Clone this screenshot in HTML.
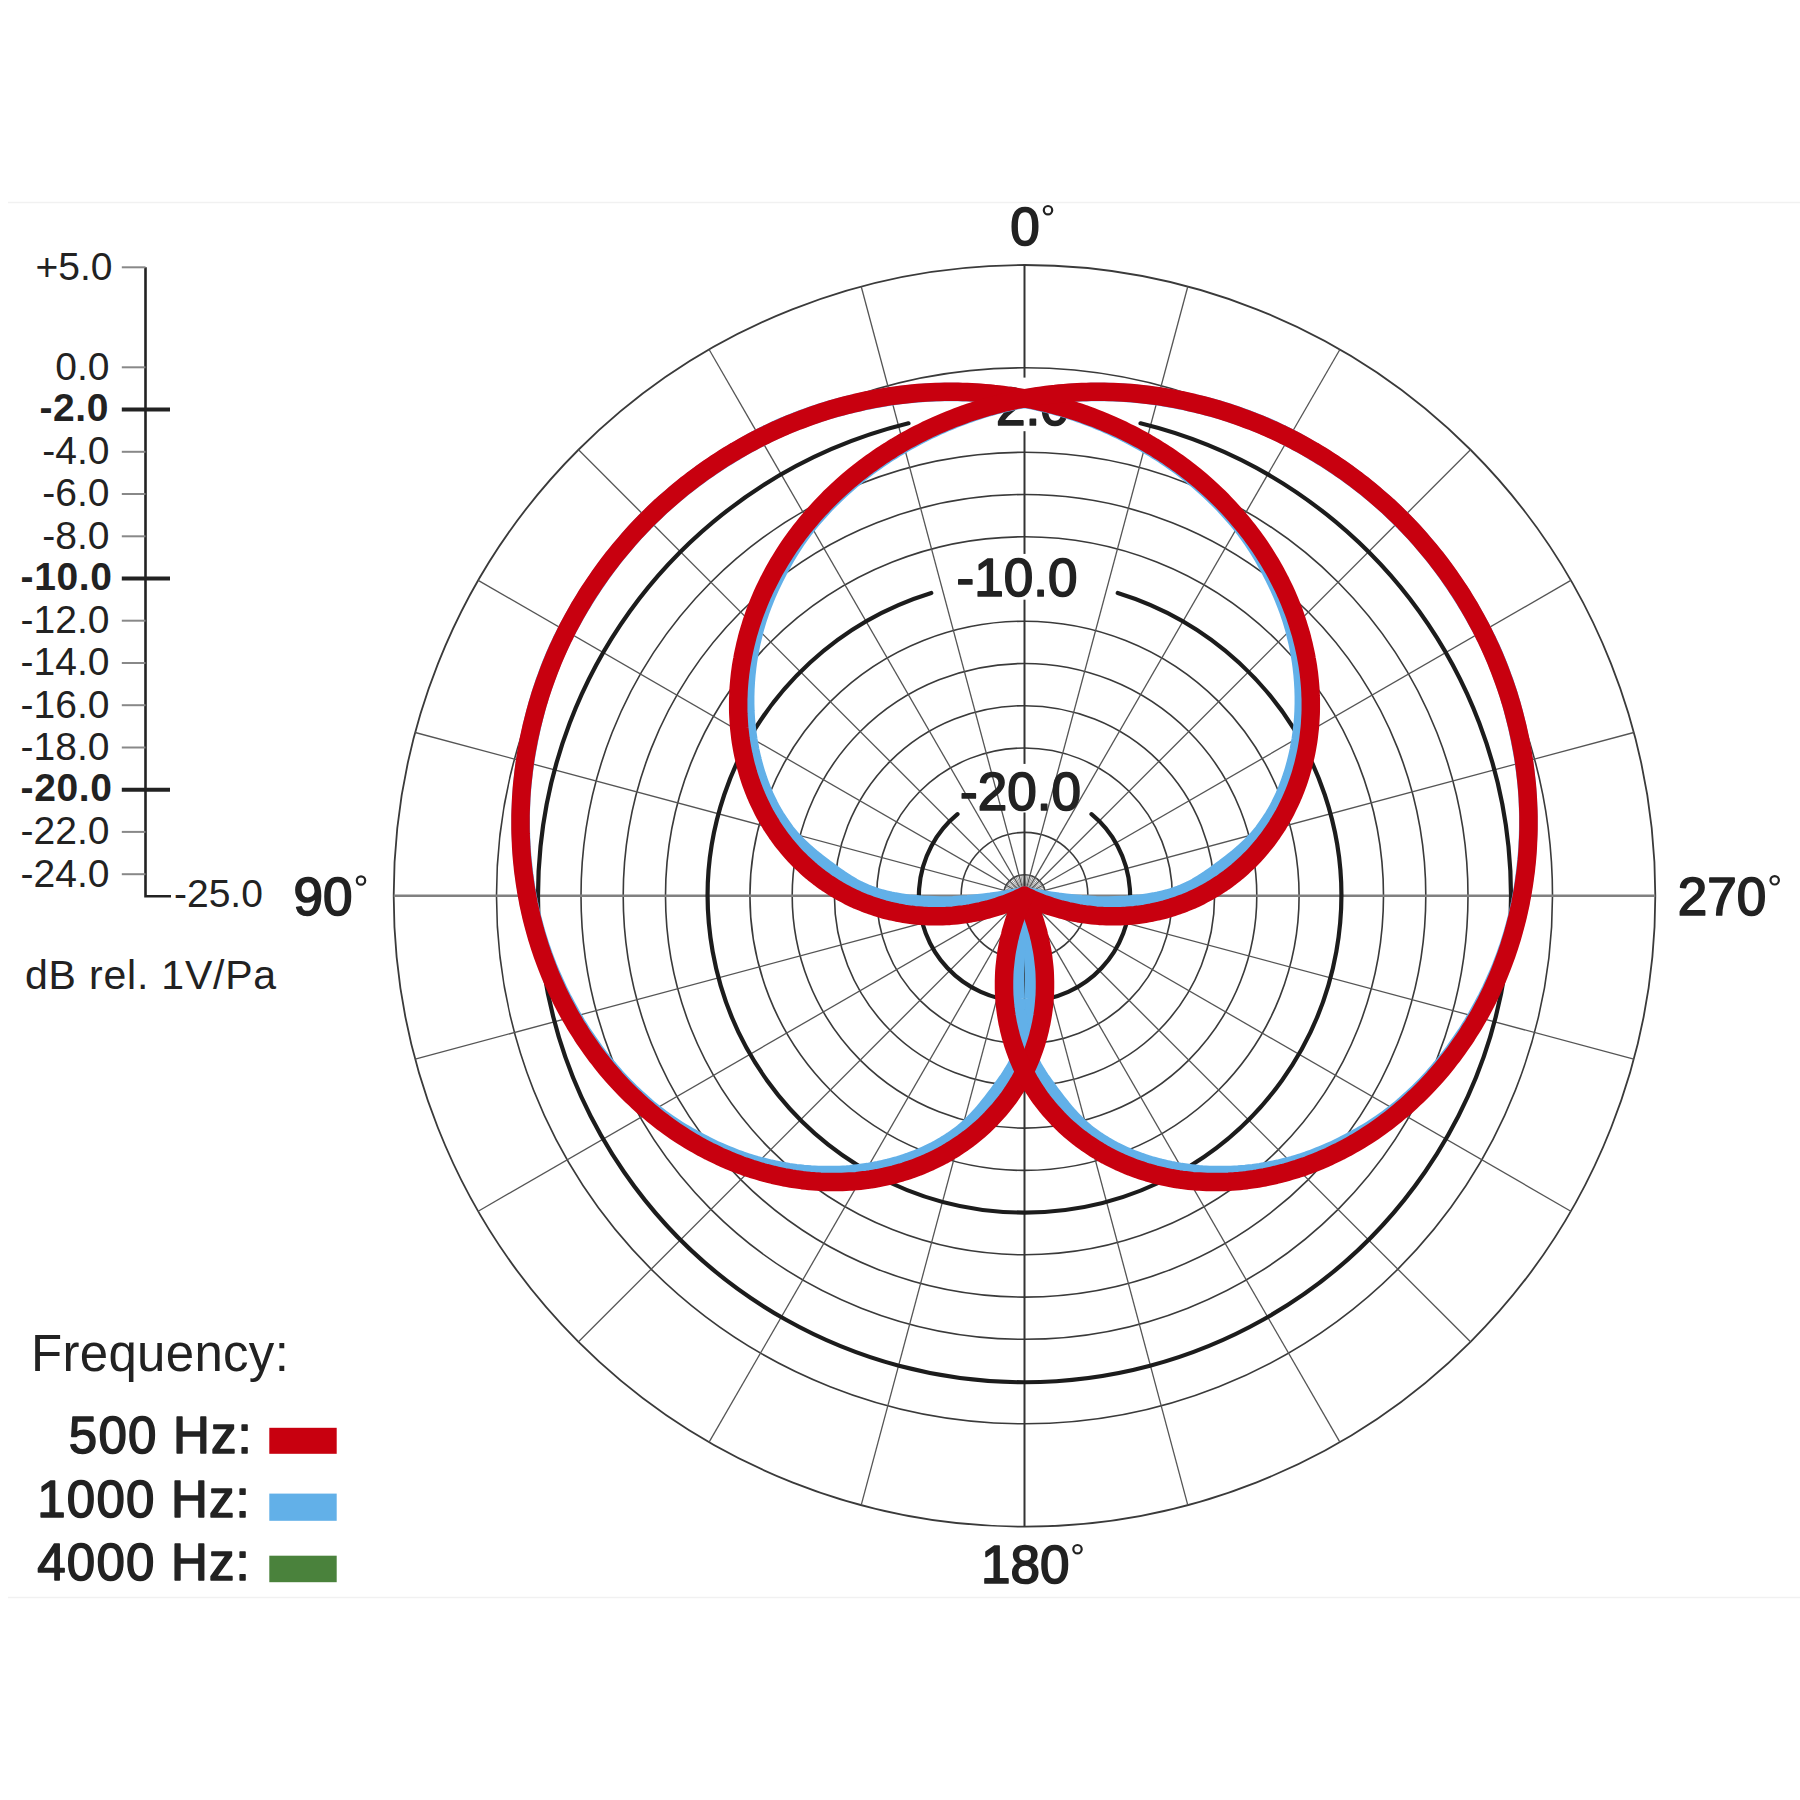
<!DOCTYPE html>
<html><head><meta charset="utf-8"><style>
html,body{margin:0;padding:0;background:#fff;}
svg{display:block;}
text{font-family:"Liberation Sans",sans-serif;fill:#222;}
.b{font-weight:bold;}
.m{font-weight:normal;stroke:#222;stroke-width:1.7;stroke-linejoin:round;}
.m2{font-weight:normal;stroke:#222;stroke-width:1.5;stroke-linejoin:round;}
.m3{font-weight:normal;stroke:#222;stroke-width:1.3;stroke-linejoin:round;}
.r{font-weight:normal;}
</style></head><body>
<svg width="1800" height="1800" viewBox="0 0 1800 1800">
<line x1="8" y1="202.5" x2="1800" y2="202.5" stroke="#f1f1f1" stroke-width="1.5"/>
<line x1="8" y1="1597.5" x2="1800" y2="1597.5" stroke="#f1f1f1" stroke-width="1.5"/>
<circle cx="1024.5" cy="895.8" r="21.1" fill="none" stroke="#3a3a3a" stroke-width="1.6"/>
<circle cx="1024.5" cy="895.8" r="63.4" fill="none" stroke="#3a3a3a" stroke-width="1.6"/>
<circle cx="1024.5" cy="895.8" r="147.8" fill="none" stroke="#3a3a3a" stroke-width="1.6"/>
<circle cx="1024.5" cy="895.8" r="190.1" fill="none" stroke="#3a3a3a" stroke-width="1.6"/>
<circle cx="1024.5" cy="895.8" r="232.3" fill="none" stroke="#3a3a3a" stroke-width="1.6"/>
<circle cx="1024.5" cy="895.8" r="274.6" fill="none" stroke="#3a3a3a" stroke-width="1.6"/>
<circle cx="1024.5" cy="895.8" r="359.0" fill="none" stroke="#3a3a3a" stroke-width="1.6"/>
<circle cx="1024.5" cy="895.8" r="401.3" fill="none" stroke="#3a3a3a" stroke-width="1.6"/>
<circle cx="1024.5" cy="895.8" r="443.5" fill="none" stroke="#3a3a3a" stroke-width="1.6"/>
<circle cx="1024.5" cy="895.8" r="528.0" fill="none" stroke="#3a3a3a" stroke-width="1.6"/>
<circle cx="1024.5" cy="895.8" r="630.8" fill="none" stroke="#3a3a3a" stroke-width="1.8"/>
<line x1="1024.5" y1="895.8" x2="1187.8" y2="286.5" stroke="#555" stroke-width="1.3"/>
<line x1="1024.5" y1="895.8" x2="1339.9" y2="349.5" stroke="#555" stroke-width="1.3"/>
<line x1="1024.5" y1="895.8" x2="1470.5" y2="449.8" stroke="#555" stroke-width="1.3"/>
<line x1="1024.5" y1="895.8" x2="1570.8" y2="580.4" stroke="#555" stroke-width="1.3"/>
<line x1="1024.5" y1="895.8" x2="1633.8" y2="732.5" stroke="#555" stroke-width="1.3"/>
<line x1="1024.5" y1="895.8" x2="1633.8" y2="1059.1" stroke="#555" stroke-width="1.3"/>
<line x1="1024.5" y1="895.8" x2="1570.8" y2="1211.2" stroke="#555" stroke-width="1.3"/>
<line x1="1024.5" y1="895.8" x2="1470.5" y2="1341.8" stroke="#555" stroke-width="1.3"/>
<line x1="1024.5" y1="895.8" x2="1339.9" y2="1442.1" stroke="#555" stroke-width="1.3"/>
<line x1="1024.5" y1="895.8" x2="1187.8" y2="1505.1" stroke="#555" stroke-width="1.3"/>
<line x1="1024.5" y1="895.8" x2="861.2" y2="1505.1" stroke="#555" stroke-width="1.3"/>
<line x1="1024.5" y1="895.8" x2="709.1" y2="1442.1" stroke="#555" stroke-width="1.3"/>
<line x1="1024.5" y1="895.8" x2="578.5" y2="1341.8" stroke="#555" stroke-width="1.3"/>
<line x1="1024.5" y1="895.8" x2="478.2" y2="1211.2" stroke="#555" stroke-width="1.3"/>
<line x1="1024.5" y1="895.8" x2="415.2" y2="1059.1" stroke="#555" stroke-width="1.3"/>
<line x1="1024.5" y1="895.8" x2="415.2" y2="732.5" stroke="#555" stroke-width="1.3"/>
<line x1="1024.5" y1="895.8" x2="478.2" y2="580.4" stroke="#555" stroke-width="1.3"/>
<line x1="1024.5" y1="895.8" x2="578.5" y2="449.8" stroke="#555" stroke-width="1.3"/>
<line x1="1024.5" y1="895.8" x2="709.1" y2="349.5" stroke="#555" stroke-width="1.3"/>
<line x1="1024.5" y1="895.8" x2="861.2" y2="286.5" stroke="#555" stroke-width="1.3"/>
<line x1="1024.5" y1="895.8" x2="1026.3" y2="874.8" stroke="#777" stroke-width="0.8"/>
<line x1="1024.5" y1="895.8" x2="1028.2" y2="875.0" stroke="#777" stroke-width="0.8"/>
<line x1="1024.5" y1="895.8" x2="1031.7" y2="876.0" stroke="#777" stroke-width="0.8"/>
<line x1="1024.5" y1="895.8" x2="1033.4" y2="876.7" stroke="#777" stroke-width="0.8"/>
<line x1="1024.5" y1="895.8" x2="1036.6" y2="878.5" stroke="#777" stroke-width="0.8"/>
<line x1="1024.5" y1="895.8" x2="1038.1" y2="879.6" stroke="#777" stroke-width="0.8"/>
<line x1="1024.5" y1="895.8" x2="1040.7" y2="882.2" stroke="#777" stroke-width="0.8"/>
<line x1="1024.5" y1="895.8" x2="1041.8" y2="883.7" stroke="#777" stroke-width="0.8"/>
<line x1="1024.5" y1="895.8" x2="1043.6" y2="886.9" stroke="#777" stroke-width="0.8"/>
<line x1="1024.5" y1="895.8" x2="1044.3" y2="888.6" stroke="#777" stroke-width="0.8"/>
<line x1="1024.5" y1="895.8" x2="1045.3" y2="892.1" stroke="#777" stroke-width="0.8"/>
<line x1="1024.5" y1="895.8" x2="1045.5" y2="894.0" stroke="#777" stroke-width="0.8"/>
<line x1="1024.5" y1="895.8" x2="1045.5" y2="897.6" stroke="#777" stroke-width="0.8"/>
<line x1="1024.5" y1="895.8" x2="1045.3" y2="899.5" stroke="#777" stroke-width="0.8"/>
<line x1="1024.5" y1="895.8" x2="1044.3" y2="903.0" stroke="#777" stroke-width="0.8"/>
<line x1="1024.5" y1="895.8" x2="1043.6" y2="904.7" stroke="#777" stroke-width="0.8"/>
<line x1="1024.5" y1="895.8" x2="1041.8" y2="907.9" stroke="#777" stroke-width="0.8"/>
<line x1="1024.5" y1="895.8" x2="1040.7" y2="909.4" stroke="#777" stroke-width="0.8"/>
<line x1="1024.5" y1="895.8" x2="1038.1" y2="912.0" stroke="#777" stroke-width="0.8"/>
<line x1="1024.5" y1="895.8" x2="1036.6" y2="913.1" stroke="#777" stroke-width="0.8"/>
<line x1="1024.5" y1="895.8" x2="1033.4" y2="914.9" stroke="#777" stroke-width="0.8"/>
<line x1="1024.5" y1="895.8" x2="1031.7" y2="915.6" stroke="#777" stroke-width="0.8"/>
<line x1="1024.5" y1="895.8" x2="1028.2" y2="916.6" stroke="#777" stroke-width="0.8"/>
<line x1="1024.5" y1="895.8" x2="1026.3" y2="916.8" stroke="#777" stroke-width="0.8"/>
<line x1="1024.5" y1="895.8" x2="1022.7" y2="916.8" stroke="#777" stroke-width="0.8"/>
<line x1="1024.5" y1="895.8" x2="1020.8" y2="916.6" stroke="#777" stroke-width="0.8"/>
<line x1="1024.5" y1="895.8" x2="1017.3" y2="915.6" stroke="#777" stroke-width="0.8"/>
<line x1="1024.5" y1="895.8" x2="1015.6" y2="914.9" stroke="#777" stroke-width="0.8"/>
<line x1="1024.5" y1="895.8" x2="1012.4" y2="913.1" stroke="#777" stroke-width="0.8"/>
<line x1="1024.5" y1="895.8" x2="1010.9" y2="912.0" stroke="#777" stroke-width="0.8"/>
<line x1="1024.5" y1="895.8" x2="1008.3" y2="909.4" stroke="#777" stroke-width="0.8"/>
<line x1="1024.5" y1="895.8" x2="1007.2" y2="907.9" stroke="#777" stroke-width="0.8"/>
<line x1="1024.5" y1="895.8" x2="1005.4" y2="904.7" stroke="#777" stroke-width="0.8"/>
<line x1="1024.5" y1="895.8" x2="1004.7" y2="903.0" stroke="#777" stroke-width="0.8"/>
<line x1="1024.5" y1="895.8" x2="1003.7" y2="899.5" stroke="#777" stroke-width="0.8"/>
<line x1="1024.5" y1="895.8" x2="1003.5" y2="897.6" stroke="#777" stroke-width="0.8"/>
<line x1="1024.5" y1="895.8" x2="1003.5" y2="894.0" stroke="#777" stroke-width="0.8"/>
<line x1="1024.5" y1="895.8" x2="1003.7" y2="892.1" stroke="#777" stroke-width="0.8"/>
<line x1="1024.5" y1="895.8" x2="1004.7" y2="888.6" stroke="#777" stroke-width="0.8"/>
<line x1="1024.5" y1="895.8" x2="1005.4" y2="886.9" stroke="#777" stroke-width="0.8"/>
<line x1="1024.5" y1="895.8" x2="1007.2" y2="883.7" stroke="#777" stroke-width="0.8"/>
<line x1="1024.5" y1="895.8" x2="1008.3" y2="882.2" stroke="#777" stroke-width="0.8"/>
<line x1="1024.5" y1="895.8" x2="1010.9" y2="879.6" stroke="#777" stroke-width="0.8"/>
<line x1="1024.5" y1="895.8" x2="1012.4" y2="878.5" stroke="#777" stroke-width="0.8"/>
<line x1="1024.5" y1="895.8" x2="1015.6" y2="876.7" stroke="#777" stroke-width="0.8"/>
<line x1="1024.5" y1="895.8" x2="1017.3" y2="876.0" stroke="#777" stroke-width="0.8"/>
<line x1="1024.5" y1="895.8" x2="1020.8" y2="875.0" stroke="#777" stroke-width="0.8"/>
<line x1="1024.5" y1="895.8" x2="1022.7" y2="874.8" stroke="#777" stroke-width="0.8"/>
<line x1="1024.5" y1="265.0" x2="1024.5" y2="377.6" stroke="#333" stroke-width="2"/>
<line x1="1024.5" y1="431.2" x2="1024.5" y2="553.9" stroke="#333" stroke-width="2"/>
<line x1="1024.5" y1="599.7" x2="1024.5" y2="763.9" stroke="#333" stroke-width="2"/>
<line x1="1024.5" y1="812.5" x2="1024.5" y2="1526.6" stroke="#333" stroke-width="2"/>
<line x1="393.7" y1="895.8" x2="1655.3" y2="895.8" stroke="#808080" stroke-width="2.4"/>
<path d="M1091.5 814.2 A105.6 105.6 0 1 1 957.5 814.2" fill="none" stroke="#1c1c1c" stroke-width="4.2" stroke-linecap="round"/>
<path d="M1117.7 593.0 A316.8 316.8 0 1 1 931.3 593.0" fill="none" stroke="#1c1c1c" stroke-width="4.2" stroke-linecap="round"/>
<path d="M1140.5 423.3 A486.5 486.5 0 1 1 908.5 423.3" fill="none" stroke="#1c1c1c" stroke-width="4.2" stroke-linecap="round"/>
<text x="1017.0" y="595.6" text-anchor="middle" class="m" font-size="53">-10.0</text>
<text x="1020.5" y="809.7" text-anchor="middle" class="m" font-size="53">-20.0</text>
<text x="1024.0" y="425.4" text-anchor="middle" class="m" font-size="53">-2.0</text>
<path d="M1024.5 398.8L1020.2 398.0L1015.8 397.3L1011.4 396.6L1007.0 396.0L1002.7 395.4L998.2 394.9L993.8 394.4L989.4 393.9L985.0 393.5L980.5 393.1L976.1 392.8L971.6 392.6L967.1 392.3L962.7 392.2L958.2 392.1L953.7 392.0L949.2 392.0L944.7 392.0L940.2 392.1L935.7 392.2L931.2 392.4L926.7 392.6L922.2 392.9L917.7 393.3L913.2 393.7L908.7 394.1L904.2 394.6L899.7 395.2L895.2 395.8L890.7 396.4L886.2 397.1L881.7 397.9L877.2 398.7L872.8 399.5L868.3 400.4L863.8 401.3L859.4 402.2L854.9 403.2L850.4 404.3L846.0 405.4L841.6 406.5L837.1 407.7L832.7 408.9L828.3 410.2L823.9 411.5L819.5 412.9L815.2 414.4L810.8 415.8L806.5 417.4L802.1 419.0L797.8 420.6L793.5 422.3L789.3 424.0L785.0 425.8L780.8 427.6L776.6 429.5L772.4 431.5L768.2 433.5L764.1 435.6L760.0 437.7L755.9 439.8L751.8 442.0L747.8 444.3L743.8 446.5L739.8 448.8L735.8 451.2L731.8 453.6L727.9 456.0L723.9 458.5L720.0 461.0L716.1 463.5L712.3 466.1L708.5 468.7L704.6 471.3L700.9 474.0L697.1 476.8L693.4 479.5L689.7 482.3L686.0 485.2L682.4 488.1L678.8 491.0L675.2 494.0L671.6 497.0L668.1 500.0L664.6 503.1L661.2 506.2L657.8 509.4L654.4 512.6L651.1 515.8L647.8 519.1L644.5 522.4L641.3 525.7L638.1 529.1L634.9 532.5L631.8 535.9L628.7 539.4L625.7 542.9L622.7 546.5L619.7 550.1L616.8 553.7L613.9 557.3L611.0 561.0L608.2 564.7L605.5 568.4L602.7 572.2L600.0 575.9L597.4 579.8L594.8 583.6L592.2 587.4L589.7 591.3L587.2 595.2L584.7 599.2L582.3 603.1L579.9 607.1L577.5 611.1L575.2 615.1L573.0 619.1L570.7 623.1L568.5 627.2L566.4 631.3L564.3 635.4L562.2 639.5L560.2 643.7L558.2 647.9L556.3 652.1L554.5 656.3L552.7 660.6L551.0 664.8L549.3 669.1L547.7 673.4L546.1 677.8L544.5 682.1L543.1 686.5L541.6 690.8L540.2 695.2L538.9 699.6L537.6 704.0L536.4 708.4L535.2 712.9L534.1 717.3L533.0 721.7L531.9 726.2L530.9 730.7L530.0 735.1L529.1 739.6L528.2 744.1L527.4 748.5L526.6 753.0L525.8 757.5L525.1 762.0L524.5 766.5L523.9 771.0L523.3 775.5L522.8 780.0L522.4 784.5L522.0 789.0L521.6 793.5L521.3 798.0L521.1 802.5L520.9 807.0L520.8 811.5L520.7 816.0L520.7 820.5L520.7 825.0L520.8 829.5L520.9 834.0L521.0 838.4L521.3 842.9L521.5 847.4L521.8 851.8L522.2 856.3L522.6 860.7L523.1 865.1L523.6 869.5L524.1 874.0L524.7 878.3L525.3 882.7L526.0 887.1L526.7 891.5L527.5 895.8L528.3 900.1L529.2 904.4L530.1 908.7L531.1 913.0L532.1 917.3L533.2 921.5L534.3 925.8L535.5 930.0L536.7 934.2L538.0 938.4L539.3 942.5L540.6 946.7L542.1 950.8L543.5 954.9L545.0 958.9L546.6 963.0L548.1 967.0L549.8 971.0L551.4 975.0L553.2 978.9L554.9 982.8L556.7 986.7L558.5 990.6L560.4 994.4L562.3 998.3L564.3 1002.0L566.3 1005.8L568.3 1009.5L570.4 1013.3L572.4 1016.9L574.6 1020.6L576.7 1024.2L579.0 1027.8L581.2 1031.3L583.5 1034.9L585.8 1038.3L588.2 1041.8L590.6 1045.2L593.0 1048.6L595.4 1052.0L597.9 1055.3L600.5 1058.6L603.1 1061.8L605.7 1065.0L608.3 1068.2L611.0 1071.3L613.7 1074.4L616.4 1077.5L619.2 1080.5L622.0 1083.5L624.8 1086.4L627.7 1089.3L630.6 1092.2L633.5 1095.0L636.5 1097.8L639.5 1100.5L642.5 1103.2L645.5 1105.9L648.6 1108.5L651.7 1111.0L654.8 1113.6L658.0 1116.0L661.2 1118.4L664.5 1120.8L667.7 1123.1L671.1 1125.3L674.4 1127.5L677.8 1129.7L681.2 1131.8L684.6 1133.8L688.0 1135.8L691.5 1137.7L695.0 1139.6L698.4 1141.5L701.9 1143.3L705.4 1145.1L708.9 1146.8L712.4 1148.5L715.9 1150.2L719.5 1151.8L723.0 1153.3L726.6 1154.8L730.1 1156.2L733.7 1157.6L737.3 1159.0L740.9 1160.3L744.5 1161.5L748.1 1162.7L751.8 1163.8L755.4 1164.9L759.1 1165.9L762.8 1166.8L766.5 1167.7L770.1 1168.6L773.8 1169.4L777.5 1170.1L781.2 1170.8L784.9 1171.5L788.6 1172.1L792.2 1172.6L795.9 1173.1L799.6 1173.5L803.3 1173.9L807.0 1174.2L810.6 1174.5L814.3 1174.7L818.0 1174.9L821.6 1175.0L825.3 1175.1L828.9 1175.1L832.5 1175.1L836.2 1175.0L839.8 1174.9L843.4 1174.7L847.0 1174.5L850.6 1174.2L854.1 1173.8L857.7 1173.4L861.2 1173.0L864.8 1172.5L868.3 1172.0L871.7 1171.4L875.2 1170.7L878.7 1170.1L882.1 1169.4L885.5 1168.6L888.9 1167.8L892.3 1166.9L895.6 1166.0L898.9 1165.1L902.2 1164.1L905.5 1163.0L908.8 1161.9L912.0 1160.7L915.3 1159.5L918.5 1158.3L921.6 1156.9L924.8 1155.6L927.9 1154.1L931.0 1152.6L934.1 1151.1L937.2 1149.5L940.2 1147.8L943.2 1146.1L946.2 1144.3L949.1 1142.4L952.0 1140.5L954.9 1138.5L957.7 1136.5L960.6 1134.4L963.4 1132.2L966.1 1129.8L968.9 1127.4L971.6 1124.8L974.3 1122.2L977.0 1119.4L979.6 1116.6L982.1 1113.8L984.6 1110.8L987.1 1107.9L989.5 1104.9L991.8 1102.0L994.1 1099.0L996.4 1096.0L998.5 1093.1L1000.6 1090.2L1002.7 1087.4L1004.7 1084.6L1006.6 1081.9L1008.5 1079.2L1010.3 1076.4L1012.1 1073.6L1013.8 1070.8L1015.5 1067.9L1017.1 1064.9L1018.7 1061.8L1020.2 1058.5L1021.7 1055.1L1023.1 1051.6L1024.5 1047.8L1025.8 1043.8L1027.0 1039.6L1028.1 1035.1L1029.2 1030.4L1030.2 1025.5L1031.0 1020.4L1031.8 1015.2L1032.5 1009.9L1033.0 1004.4L1033.5 998.4L1033.8 992.1L1034.0 985.9L1034.1 979.8L1034.1 973.7L1033.9 967.2L1033.5 960.0L1033.0 952.4L1032.2 944.5L1031.3 936.7L1030.4 929.3L1029.2 921.2L1027.7 912.4L1026.2 904.2L1025.0 898.1L1024.5 895.8L1026.8 896.3L1032.9 897.5L1041.1 899.0L1049.9 900.5L1058.0 901.7L1065.4 902.6L1073.2 903.5L1081.1 904.3L1088.7 904.8L1095.9 905.2L1102.4 905.4L1108.5 905.4L1114.6 905.3L1120.8 905.1L1127.1 904.8L1133.1 904.3L1138.6 903.8L1143.9 903.1L1149.1 902.3L1154.2 901.5L1159.1 900.5L1163.8 899.4L1168.3 898.3L1172.5 897.1L1176.5 895.8L1180.3 894.4L1183.8 893.0L1187.2 891.5L1190.5 890.0L1193.6 888.4L1196.6 886.8L1199.5 885.1L1202.3 883.4L1205.1 881.6L1207.9 879.8L1210.6 877.9L1213.3 876.0L1216.1 874.0L1218.9 871.9L1221.8 869.8L1224.7 867.7L1227.7 865.4L1230.7 863.1L1233.6 860.8L1236.6 858.4L1239.5 855.9L1242.5 853.4L1245.3 850.9L1248.1 848.3L1250.9 845.6L1253.5 842.9L1256.1 840.2L1258.5 837.4L1260.9 834.7L1263.1 831.9L1265.2 829.0L1267.2 826.2L1269.2 823.3L1271.1 820.4L1273.0 817.5L1274.8 814.5L1276.5 811.5L1278.2 808.5L1279.8 805.4L1281.3 802.3L1282.8 799.2L1284.3 796.1L1285.6 792.9L1287.0 789.8L1288.2 786.6L1289.4 783.3L1290.6 780.1L1291.7 776.8L1292.8 773.5L1293.8 770.2L1294.7 766.9L1295.6 763.6L1296.5 760.2L1297.3 756.8L1298.1 753.4L1298.8 750.0L1299.4 746.5L1300.1 743.0L1300.7 739.6L1301.2 736.0L1301.7 732.5L1302.1 729.0L1302.5 725.4L1302.9 721.9L1303.2 718.3L1303.4 714.7L1303.6 711.1L1303.7 707.5L1303.8 703.8L1303.8 700.2L1303.8 696.6L1303.7 692.9L1303.6 689.3L1303.4 685.6L1303.2 681.9L1302.9 678.3L1302.6 674.6L1302.2 670.9L1301.8 667.2L1301.3 663.5L1300.8 659.9L1300.2 656.2L1299.5 652.5L1298.8 648.8L1298.1 645.1L1297.3 641.4L1296.4 637.8L1295.5 634.1L1294.6 630.4L1293.6 626.7L1292.5 623.1L1291.4 619.4L1290.2 615.8L1289.0 612.2L1287.7 608.6L1286.3 605.0L1284.9 601.4L1283.5 597.9L1282.0 594.3L1280.5 590.8L1278.9 587.2L1277.2 583.7L1275.5 580.2L1273.8 576.7L1272.0 573.2L1270.2 569.7L1268.3 566.3L1266.4 562.8L1264.5 559.3L1262.5 555.9L1260.5 552.5L1258.4 549.1L1256.2 545.7L1254.0 542.4L1251.8 539.0L1249.5 535.8L1247.1 532.5L1244.7 529.3L1242.3 526.1L1239.8 523.0L1237.2 519.9L1234.6 516.8L1231.9 513.8L1229.2 510.8L1226.5 507.8L1223.7 504.8L1220.9 501.9L1218.0 499.0L1215.1 496.1L1212.2 493.3L1209.2 490.5L1206.2 487.7L1203.1 485.0L1200.0 482.3L1196.9 479.6L1193.7 477.0L1190.5 474.4L1187.3 471.8L1184.0 469.2L1180.7 466.7L1177.3 464.3L1173.9 461.9L1170.5 459.5L1167.0 457.1L1163.6 454.8L1160.0 452.5L1156.5 450.3L1152.9 448.0L1149.3 445.9L1145.6 443.7L1142.0 441.7L1138.2 439.6L1134.5 437.6L1130.7 435.6L1127.0 433.6L1123.1 431.7L1119.3 429.8L1115.4 428.0L1111.5 426.2L1107.6 424.5L1103.7 422.7L1099.7 421.1L1095.7 419.4L1091.7 417.9L1087.6 416.3L1083.6 414.8L1079.5 413.4L1075.4 411.9L1071.2 410.6L1067.1 409.3L1062.9 408.0L1058.7 406.8L1054.5 405.6L1050.2 404.5L1046.0 403.4L1041.7 402.4L1037.4 401.4L1033.1 400.5L1028.8 399.6L1024.5 398.8Z" fill="none" stroke="#62b0e8" stroke-width="18.5" stroke-linejoin="round"/>
<path d="M1024.5 398.8L1028.8 398.0L1033.2 397.3L1037.6 396.6L1042.0 396.0L1046.3 395.4L1050.8 394.9L1055.2 394.4L1059.6 393.9L1064.0 393.5L1068.5 393.1L1072.9 392.8L1077.4 392.6L1081.9 392.3L1086.3 392.2L1090.8 392.1L1095.3 392.0L1099.8 392.0L1104.3 392.0L1108.8 392.1L1113.3 392.2L1117.8 392.4L1122.3 392.6L1126.8 392.9L1131.3 393.3L1135.8 393.7L1140.3 394.1L1144.8 394.6L1149.3 395.2L1153.8 395.8L1158.3 396.4L1162.8 397.1L1167.3 397.9L1171.8 398.7L1176.2 399.5L1180.7 400.4L1185.2 401.3L1189.6 402.2L1194.1 403.2L1198.6 404.3L1203.0 405.4L1207.4 406.5L1211.9 407.7L1216.3 408.9L1220.7 410.2L1225.1 411.5L1229.5 412.9L1233.8 414.4L1238.2 415.8L1242.5 417.4L1246.9 419.0L1251.2 420.6L1255.5 422.3L1259.7 424.0L1264.0 425.8L1268.2 427.6L1272.4 429.5L1276.6 431.5L1280.8 433.5L1284.9 435.6L1289.0 437.7L1293.1 439.8L1297.2 442.0L1301.2 444.3L1305.2 446.5L1309.2 448.8L1313.2 451.2L1317.2 453.6L1321.1 456.0L1325.1 458.5L1329.0 461.0L1332.9 463.5L1336.7 466.1L1340.5 468.7L1344.4 471.3L1348.1 474.0L1351.9 476.8L1355.6 479.5L1359.3 482.3L1363.0 485.2L1366.6 488.1L1370.2 491.0L1373.8 494.0L1377.4 497.0L1380.9 500.0L1384.4 503.1L1387.8 506.2L1391.2 509.4L1394.6 512.6L1397.9 515.8L1401.2 519.1L1404.5 522.4L1407.7 525.7L1410.9 529.1L1414.1 532.5L1417.2 535.9L1420.3 539.4L1423.3 542.9L1426.3 546.5L1429.3 550.1L1432.2 553.7L1435.1 557.3L1438.0 561.0L1440.8 564.7L1443.5 568.4L1446.3 572.2L1449.0 575.9L1451.6 579.8L1454.2 583.6L1456.8 587.4L1459.3 591.3L1461.8 595.2L1464.3 599.2L1466.7 603.1L1469.1 607.1L1471.5 611.1L1473.8 615.1L1476.0 619.1L1478.3 623.1L1480.5 627.2L1482.6 631.3L1484.7 635.4L1486.8 639.5L1488.8 643.7L1490.8 647.9L1492.7 652.1L1494.5 656.3L1496.3 660.6L1498.0 664.8L1499.7 669.1L1501.3 673.4L1502.9 677.8L1504.5 682.1L1505.9 686.5L1507.4 690.8L1508.8 695.2L1510.1 699.6L1511.4 704.0L1512.6 708.4L1513.8 712.9L1514.9 717.3L1516.0 721.7L1517.1 726.2L1518.1 730.7L1519.0 735.1L1519.9 739.6L1520.8 744.1L1521.6 748.5L1522.4 753.0L1523.2 757.5L1523.9 762.0L1524.5 766.5L1525.1 771.0L1525.7 775.5L1526.2 780.0L1526.6 784.5L1527.0 789.0L1527.4 793.5L1527.7 798.0L1527.9 802.5L1528.1 807.0L1528.2 811.5L1528.3 816.0L1528.3 820.5L1528.3 825.0L1528.2 829.5L1528.1 834.0L1528.0 838.4L1527.7 842.9L1527.5 847.4L1527.2 851.8L1526.8 856.3L1526.4 860.7L1525.9 865.1L1525.4 869.5L1524.9 874.0L1524.3 878.3L1523.7 882.7L1523.0 887.1L1522.3 891.5L1521.5 895.8L1520.7 900.1L1519.8 904.4L1518.9 908.7L1517.9 913.0L1516.9 917.3L1515.8 921.5L1514.7 925.8L1513.5 930.0L1512.3 934.2L1511.0 938.4L1509.7 942.5L1508.4 946.7L1506.9 950.8L1505.5 954.9L1504.0 958.9L1502.4 963.0L1500.9 967.0L1499.2 971.0L1497.6 975.0L1495.8 978.9L1494.1 982.8L1492.3 986.7L1490.5 990.6L1488.6 994.4L1486.7 998.3L1484.7 1002.0L1482.7 1005.8L1480.7 1009.5L1478.6 1013.3L1476.6 1016.9L1474.4 1020.6L1472.3 1024.2L1470.0 1027.8L1467.8 1031.3L1465.5 1034.9L1463.2 1038.3L1460.8 1041.8L1458.4 1045.2L1456.0 1048.6L1453.6 1052.0L1451.1 1055.3L1448.5 1058.6L1445.9 1061.8L1443.3 1065.0L1440.7 1068.2L1438.0 1071.3L1435.3 1074.4L1432.6 1077.5L1429.8 1080.5L1427.0 1083.5L1424.2 1086.4L1421.3 1089.3L1418.4 1092.2L1415.5 1095.0L1412.5 1097.8L1409.5 1100.5L1406.5 1103.2L1403.5 1105.9L1400.4 1108.5L1397.3 1111.0L1394.2 1113.6L1391.0 1116.0L1387.8 1118.4L1384.5 1120.8L1381.3 1123.1L1377.9 1125.3L1374.6 1127.5L1371.2 1129.7L1367.8 1131.8L1364.4 1133.8L1361.0 1135.8L1357.5 1137.7L1354.0 1139.6L1350.6 1141.5L1347.1 1143.3L1343.6 1145.1L1340.1 1146.8L1336.6 1148.5L1333.1 1150.2L1329.5 1151.8L1326.0 1153.3L1322.4 1154.8L1318.9 1156.2L1315.3 1157.6L1311.7 1159.0L1308.1 1160.3L1304.5 1161.5L1300.9 1162.7L1297.2 1163.8L1293.6 1164.9L1289.9 1165.9L1286.2 1166.8L1282.5 1167.7L1278.9 1168.6L1275.2 1169.4L1271.5 1170.1L1267.8 1170.8L1264.1 1171.5L1260.4 1172.1L1256.8 1172.6L1253.1 1173.1L1249.4 1173.5L1245.7 1173.9L1242.0 1174.2L1238.4 1174.5L1234.7 1174.7L1231.0 1174.9L1227.4 1175.0L1223.7 1175.1L1220.1 1175.1L1216.5 1175.1L1212.8 1175.0L1209.2 1174.9L1205.6 1174.7L1202.0 1174.5L1198.4 1174.2L1194.9 1173.8L1191.3 1173.4L1187.8 1173.0L1184.2 1172.5L1180.7 1172.0L1177.3 1171.4L1173.8 1170.7L1170.3 1170.1L1166.9 1169.4L1163.5 1168.6L1160.1 1167.8L1156.7 1166.9L1153.4 1166.0L1150.1 1165.1L1146.8 1164.1L1143.5 1163.0L1140.2 1161.9L1137.0 1160.7L1133.7 1159.5L1130.5 1158.3L1127.4 1156.9L1124.2 1155.6L1121.1 1154.1L1118.0 1152.6L1114.9 1151.1L1111.8 1149.5L1108.8 1147.8L1105.8 1146.1L1102.8 1144.3L1099.9 1142.4L1097.0 1140.5L1094.1 1138.5L1091.3 1136.5L1088.4 1134.4L1085.6 1132.2L1082.9 1129.8L1080.1 1127.4L1077.4 1124.8L1074.7 1122.2L1072.0 1119.4L1069.4 1116.6L1066.9 1113.8L1064.4 1110.8L1061.9 1107.9L1059.5 1104.9L1057.2 1102.0L1054.9 1099.0L1052.6 1096.0L1050.5 1093.1L1048.4 1090.2L1046.3 1087.4L1044.3 1084.6L1042.4 1081.9L1040.5 1079.2L1038.7 1076.4L1036.9 1073.6L1035.2 1070.8L1033.5 1067.9L1031.9 1064.9L1030.3 1061.8L1028.8 1058.5L1027.3 1055.1L1025.9 1051.6L1024.5 1047.8L1023.2 1043.8L1022.0 1039.6L1020.9 1035.1L1019.8 1030.4L1018.8 1025.5L1018.0 1020.4L1017.2 1015.2L1016.5 1009.9L1016.0 1004.4L1015.5 998.4L1015.2 992.1L1015.0 985.9L1014.9 979.8L1014.9 973.7L1015.1 967.2L1015.5 960.0L1016.0 952.4L1016.8 944.5L1017.7 936.7L1018.6 929.3L1019.8 921.2L1021.3 912.4L1022.8 904.2L1024.0 898.1L1024.5 895.8L1022.2 896.3L1016.1 897.5L1007.9 899.0L999.1 900.5L991.0 901.7L983.6 902.6L975.8 903.5L967.9 904.3L960.3 904.8L953.1 905.2L946.6 905.4L940.5 905.4L934.4 905.3L928.2 905.1L921.9 904.8L915.9 904.3L910.4 903.8L905.1 903.1L899.9 902.3L894.8 901.5L889.9 900.5L885.2 899.4L880.7 898.3L876.5 897.1L872.5 895.8L868.7 894.4L865.2 893.0L861.8 891.5L858.5 890.0L855.4 888.4L852.4 886.8L849.5 885.1L846.7 883.4L843.9 881.6L841.1 879.8L838.4 877.9L835.7 876.0L832.9 874.0L830.1 871.9L827.2 869.8L824.3 867.7L821.3 865.4L818.3 863.1L815.4 860.8L812.4 858.4L809.5 855.9L806.5 853.4L803.7 850.9L800.9 848.3L798.1 845.6L795.5 842.9L792.9 840.2L790.5 837.4L788.1 834.7L785.9 831.9L783.8 829.0L781.8 826.2L779.8 823.3L777.9 820.4L776.0 817.5L774.2 814.5L772.5 811.5L770.8 808.5L769.2 805.4L767.7 802.3L766.2 799.2L764.7 796.1L763.4 792.9L762.0 789.8L760.8 786.6L759.6 783.3L758.4 780.1L757.3 776.8L756.2 773.5L755.2 770.2L754.3 766.9L753.4 763.6L752.5 760.2L751.7 756.8L750.9 753.4L750.2 750.0L749.6 746.5L748.9 743.0L748.3 739.6L747.8 736.0L747.3 732.5L746.9 729.0L746.5 725.4L746.1 721.9L745.8 718.3L745.6 714.7L745.4 711.1L745.3 707.5L745.2 703.8L745.2 700.2L745.2 696.6L745.3 692.9L745.4 689.3L745.6 685.6L745.8 681.9L746.1 678.3L746.4 674.6L746.8 670.9L747.2 667.2L747.7 663.5L748.2 659.9L748.8 656.2L749.5 652.5L750.2 648.8L750.9 645.1L751.7 641.4L752.6 637.8L753.5 634.1L754.4 630.4L755.4 626.7L756.5 623.1L757.6 619.4L758.8 615.8L760.0 612.2L761.3 608.6L762.7 605.0L764.1 601.4L765.5 597.9L767.0 594.3L768.5 590.8L770.1 587.2L771.8 583.7L773.5 580.2L775.2 576.7L777.0 573.2L778.8 569.7L780.7 566.3L782.6 562.8L784.5 559.3L786.5 555.9L788.5 552.5L790.6 549.1L792.8 545.7L795.0 542.4L797.2 539.0L799.5 535.8L801.9 532.5L804.3 529.3L806.7 526.1L809.2 523.0L811.8 519.9L814.4 516.8L817.1 513.8L819.8 510.8L822.5 507.8L825.3 504.8L828.1 501.9L831.0 499.0L833.9 496.1L836.8 493.3L839.8 490.5L842.8 487.7L845.9 485.0L849.0 482.3L852.1 479.6L855.3 477.0L858.5 474.4L861.7 471.8L865.0 469.2L868.3 466.7L871.7 464.3L875.1 461.9L878.5 459.5L882.0 457.1L885.4 454.8L889.0 452.5L892.5 450.3L896.1 448.0L899.7 445.9L903.4 443.7L907.0 441.7L910.8 439.6L914.5 437.6L918.3 435.6L922.0 433.6L925.9 431.7L929.7 429.8L933.6 428.0L937.5 426.2L941.4 424.5L945.3 422.7L949.3 421.1L953.3 419.4L957.3 417.9L961.4 416.3L965.4 414.8L969.5 413.4L973.6 411.9L977.8 410.6L981.9 409.3L986.1 408.0L990.3 406.8L994.5 405.6L998.8 404.5L1003.0 403.4L1007.3 402.4L1011.6 401.4L1015.9 400.5L1020.2 399.6L1024.5 398.8Z" fill="none" stroke="#62b0e8" stroke-width="18.5" stroke-linejoin="round"/>
<path d="M1024.5 398.4L1020.2 397.6L1015.8 396.9L1011.4 396.2L1007.0 395.6L1002.6 395.0L998.2 394.4L993.8 394.0L989.4 393.5L984.9 393.1L980.5 392.8L976.0 392.5L971.6 392.3L967.1 392.1L962.6 391.9L958.1 391.8L953.7 391.8L949.2 391.8L944.7 391.8L940.2 391.9L935.7 392.1L931.2 392.3L926.7 392.5L922.2 392.8L917.7 393.1L913.1 393.5L908.6 394.0L904.1 394.5L899.6 395.0L895.1 395.6L890.6 396.2L886.1 396.9L881.7 397.6L877.2 398.4L872.7 399.3L868.2 400.1L863.8 401.1L859.3 402.1L854.8 403.1L850.4 404.2L846.0 405.3L841.5 406.5L837.1 407.7L832.7 408.9L828.3 410.3L823.9 411.6L819.6 413.0L815.2 414.5L810.9 416.0L806.6 417.6L802.2 419.2L797.9 420.8L793.7 422.5L789.4 424.2L785.1 426.0L780.9 427.9L776.7 429.7L772.5 431.7L768.3 433.6L764.2 435.7L760.0 437.7L755.9 439.8L751.8 442.0L747.7 444.2L743.7 446.4L739.7 448.7L735.6 451.0L731.7 453.4L727.7 455.8L723.8 458.2L719.9 460.7L716.0 463.3L712.1 465.9L708.3 468.5L704.5 471.1L700.7 473.8L697.0 476.6L693.2 479.4L689.6 482.2L685.9 485.0L682.3 487.9L678.7 490.9L675.1 493.9L671.6 496.9L668.1 499.9L664.6 503.0L661.1 506.1L657.7 509.3L654.4 512.5L651.0 515.7L647.7 519.0L644.4 522.3L641.2 525.7L638.0 529.0L634.8 532.4L631.7 535.9L628.6 539.4L625.6 542.9L622.6 546.4L619.6 550.0L616.6 553.6L613.7 557.2L610.9 560.9L608.1 564.5L605.3 568.3L602.5 572.0L599.8 575.8L597.2 579.6L594.6 583.4L592.0 587.3L589.4 591.2L586.9 595.1L584.5 599.0L582.1 603.0L579.7 606.9L577.4 611.0L575.1 615.0L572.9 619.0L570.7 623.1L568.5 627.2L566.4 631.3L564.4 635.5L562.3 639.6L560.4 643.8L558.4 648.0L556.6 652.2L554.7 656.4L552.9 660.7L551.2 665.0L549.5 669.2L547.9 673.5L546.3 677.9L544.7 682.2L543.2 686.5L541.7 690.9L540.3 695.2L539.0 699.6L537.6 704.0L536.4 708.4L535.2 712.8L534.0 717.3L532.9 721.7L531.8 726.1L530.8 730.6L529.8 735.1L528.8 739.5L528.0 744.0L527.1 748.5L526.3 753.0L525.6 757.4L524.9 761.9L524.3 766.4L523.7 770.9L523.2 775.4L522.7 779.9L522.2 784.4L521.8 789.0L521.5 793.5L521.2 798.0L521.0 802.5L520.8 807.0L520.6 811.5L520.5 816.0L520.5 820.5L520.5 825.0L520.5 829.4L520.6 833.9L520.8 838.4L521.0 842.9L521.2 847.3L521.5 851.8L521.8 856.2L522.2 860.7L522.7 865.1L523.1 869.5L523.7 873.9L524.3 878.3L524.9 882.7L525.6 887.1L526.3 891.5L527.1 895.8L527.9 900.1L528.7 904.5L529.7 908.8L530.6 913.0L531.6 917.3L532.7 921.6L533.8 925.8L534.9 930.0L536.1 934.2L537.3 938.4L538.6 942.6L539.9 946.7L541.3 950.9L542.7 955.0L544.2 959.0L545.7 963.1L547.2 967.1L548.8 971.1L550.4 975.1L552.1 979.1L553.8 983.0L555.6 986.9L557.4 990.8L559.2 994.7L561.1 998.5L563.0 1002.3L565.0 1006.1L567.0 1009.9L569.0 1013.6L571.1 1017.3L573.3 1020.9L575.4 1024.6L577.6 1028.2L579.9 1031.7L582.1 1035.3L584.4 1038.8L586.8 1042.3L589.2 1045.7L591.6 1049.1L594.0 1052.5L596.5 1055.8L599.1 1059.1L601.6 1062.4L604.2 1065.6L606.8 1068.8L609.5 1072.0L612.2 1075.1L614.9 1078.2L617.7 1081.2L620.5 1084.2L623.3 1087.2L626.1 1090.1L629.0 1093.0L631.9 1095.8L634.9 1098.6L637.8 1101.4L640.8 1104.1L643.8 1106.8L646.9 1109.4L650.0 1112.0L653.1 1114.6L656.2 1117.1L659.3 1119.6L662.5 1122.0L665.7 1124.4L668.9 1126.7L672.1 1129.0L675.4 1131.3L678.7 1133.5L682.0 1135.6L685.3 1137.7L688.7 1139.8L692.0 1141.8L695.4 1143.8L698.8 1145.7L702.2 1147.6L705.6 1149.4L709.1 1151.2L712.6 1152.9L716.0 1154.6L719.5 1156.3L723.0 1157.9L726.6 1159.4L730.1 1160.9L733.6 1162.3L737.2 1163.7L740.7 1165.1L744.3 1166.4L747.9 1167.6L751.5 1168.8L755.1 1169.9L758.7 1171.0L762.3 1172.1L765.9 1173.1L769.6 1174.0L773.2 1174.9L776.8 1175.7L780.5 1176.5L784.1 1177.3L787.8 1177.9L791.4 1178.6L795.0 1179.2L798.7 1179.7L802.3 1180.2L806.0 1180.6L809.6 1181.0L813.3 1181.3L816.9 1181.6L820.5 1181.8L824.1 1181.9L827.8 1182.1L831.4 1182.1L835.0 1182.1L838.6 1182.1L842.2 1182.0L845.8 1181.8L849.3 1181.6L852.9 1181.4L856.5 1181.1L860.0 1180.7L863.5 1180.3L867.0 1179.9L870.5 1179.4L874.0 1178.8L877.5 1178.2L881.0 1177.5L884.4 1176.8L887.8 1176.0L891.2 1175.2L894.6 1174.4L898.0 1173.4L901.3 1172.5L904.6 1171.5L907.9 1170.4L911.2 1169.3L914.5 1168.1L917.7 1166.9L920.9 1165.6L924.1 1164.3L927.3 1162.9L930.4 1161.5L933.5 1160.0L936.6 1158.5L939.6 1157.0L942.7 1155.4L945.7 1153.7L948.6 1152.0L951.5 1150.2L954.4 1148.5L957.3 1146.6L960.1 1144.7L962.9 1142.8L965.7 1140.8L968.4 1138.8L971.1 1136.7L973.7 1134.6L976.4 1132.4L978.9 1130.2L981.5 1128.0L984.0 1125.7L986.4 1123.4L988.8 1121.0L991.2 1118.6L993.5 1116.1L995.8 1113.6L998.1 1111.1L1000.3 1108.5L1002.4 1105.9L1004.5 1103.3L1006.6 1100.6L1008.6 1097.9L1010.6 1095.1L1012.5 1092.3L1014.3 1089.5L1016.2 1086.6L1017.9 1083.7L1019.7 1080.8L1021.3 1077.8L1022.9 1074.8L1024.5 1071.8L1026.0 1068.7L1027.5 1065.6L1028.9 1062.5L1030.2 1059.4L1031.5 1056.2L1032.7 1053.0L1033.9 1049.8L1035.0 1046.5L1036.1 1043.2L1037.1 1039.9L1038.1 1036.6L1038.9 1033.3L1039.8 1029.9L1040.5 1026.5L1041.3 1023.1L1041.9 1019.7L1042.5 1016.2L1043.0 1012.8L1043.5 1009.3L1043.9 1005.8L1044.2 1002.4L1044.5 998.9L1044.8 995.3L1044.9 991.8L1045.0 988.3L1045.0 984.8L1045.0 981.2L1044.9 977.7L1044.8 974.2L1044.6 970.6L1044.3 967.1L1043.9 963.6L1043.5 960.1L1043.1 956.6L1042.6 953.1L1042.0 949.6L1041.3 946.1L1040.6 942.6L1039.9 939.2L1039.0 935.8L1038.2 932.3L1037.2 929.0L1036.2 925.6L1035.2 922.3L1034.1 919.0L1033.0 915.7L1031.8 912.5L1030.5 909.3L1029.2 906.1L1027.9 903.0L1026.5 900.0L1025.1 896.9L1024.5 895.8L1025.6 896.4L1028.7 897.8L1031.7 899.2L1034.8 900.5L1038.0 901.8L1041.2 903.1L1044.4 904.3L1047.7 905.4L1051.0 906.5L1054.3 907.5L1057.7 908.5L1061.0 909.5L1064.5 910.3L1067.9 911.2L1071.3 911.9L1074.8 912.6L1078.3 913.3L1081.8 913.9L1085.3 914.4L1088.8 914.8L1092.3 915.2L1095.8 915.6L1099.3 915.9L1102.9 916.1L1106.4 916.2L1109.9 916.3L1113.5 916.3L1117.0 916.3L1120.5 916.2L1124.0 916.1L1127.6 915.8L1131.1 915.5L1134.5 915.2L1138.0 914.8L1141.5 914.3L1144.9 913.8L1148.4 913.2L1151.8 912.6L1155.2 911.8L1158.6 911.1L1162.0 910.2L1165.3 909.4L1168.6 908.4L1171.9 907.4L1175.2 906.3L1178.5 905.2L1181.7 904.0L1184.9 902.8L1188.1 901.5L1191.2 900.2L1194.3 898.8L1197.4 897.3L1200.5 895.8L1203.5 894.2L1206.5 892.6L1209.5 891.0L1212.4 889.2L1215.3 887.5L1218.2 885.6L1221.0 883.8L1223.8 881.9L1226.6 879.9L1229.3 877.9L1232.0 875.8L1234.6 873.7L1237.2 871.6L1239.8 869.4L1242.3 867.1L1244.8 864.8L1247.3 862.5L1249.7 860.1L1252.1 857.7L1254.4 855.3L1256.7 852.8L1258.9 850.2L1261.1 847.7L1263.3 845.0L1265.4 842.4L1267.5 839.7L1269.5 837.0L1271.5 834.2L1273.4 831.4L1275.3 828.6L1277.2 825.7L1278.9 822.8L1280.7 819.9L1282.4 817.0L1284.1 814.0L1285.7 810.9L1287.2 807.9L1288.7 804.8L1290.2 801.7L1291.6 798.6L1293.0 795.4L1294.3 792.2L1295.6 789.0L1296.8 785.8L1298.0 782.5L1299.1 779.2L1300.2 775.9L1301.2 772.6L1302.1 769.3L1303.1 765.9L1303.9 762.5L1304.7 759.1L1305.5 755.7L1306.2 752.3L1306.9 748.8L1307.5 745.3L1308.1 741.8L1308.6 738.3L1309.0 734.8L1309.4 731.3L1309.8 727.8L1310.1 724.2L1310.3 720.6L1310.5 717.1L1310.7 713.5L1310.8 709.9L1310.8 706.3L1310.8 702.7L1310.8 699.1L1310.6 695.4L1310.5 691.8L1310.3 688.2L1310.0 684.6L1309.7 680.9L1309.3 677.3L1308.9 673.6L1308.4 670.0L1307.9 666.3L1307.3 662.7L1306.6 659.1L1306.0 655.4L1305.2 651.8L1304.4 648.1L1303.6 644.5L1302.7 640.9L1301.8 637.2L1300.8 633.6L1299.7 630.0L1298.6 626.4L1297.5 622.8L1296.3 619.2L1295.1 615.6L1293.8 612.0L1292.4 608.5L1291.0 604.9L1289.6 601.4L1288.1 597.9L1286.6 594.3L1285.0 590.8L1283.3 587.3L1281.6 583.9L1279.9 580.4L1278.1 576.9L1276.3 573.5L1274.4 570.1L1272.5 566.7L1270.5 563.3L1268.5 560.0L1266.4 556.6L1264.3 553.3L1262.2 550.0L1260.0 546.7L1257.7 543.4L1255.4 540.2L1253.1 537.0L1250.7 533.8L1248.3 530.6L1245.8 527.5L1243.3 524.4L1240.7 521.3L1238.1 518.2L1235.5 515.1L1232.8 512.1L1230.1 509.1L1227.3 506.2L1224.5 503.2L1221.7 500.3L1218.8 497.4L1215.9 494.6L1212.9 491.8L1209.9 489.0L1206.9 486.2L1203.8 483.5L1200.7 480.8L1197.5 478.1L1194.3 475.5L1191.1 472.9L1187.8 470.4L1184.5 467.8L1181.2 465.3L1177.8 462.9L1174.4 460.5L1171.0 458.1L1167.5 455.7L1164.0 453.4L1160.4 451.2L1156.9 448.9L1153.3 446.7L1149.6 444.6L1146.0 442.4L1142.3 440.3L1138.6 438.3L1134.8 436.3L1131.0 434.3L1127.2 432.4L1123.4 430.5L1119.5 428.7L1115.6 426.9L1111.7 425.1L1107.8 423.4L1103.8 421.7L1099.8 420.1L1095.8 418.5L1091.8 417.0L1087.7 415.5L1083.7 414.0L1079.6 412.6L1075.4 411.2L1071.3 409.9L1067.1 408.6L1062.9 407.4L1058.7 406.2L1054.5 405.1L1050.3 404.0L1046.0 402.9L1041.7 401.9L1037.5 401.0L1033.2 400.0L1028.8 399.2L1024.5 398.4Z" fill="none" stroke="#c8000f" stroke-width="18.5" stroke-linejoin="round"/>
<path d="M1024.5 398.4L1028.8 397.6L1033.2 396.9L1037.6 396.2L1042.0 395.6L1046.4 395.0L1050.8 394.4L1055.2 394.0L1059.6 393.5L1064.1 393.1L1068.5 392.8L1073.0 392.5L1077.4 392.3L1081.9 392.1L1086.4 391.9L1090.9 391.8L1095.3 391.8L1099.8 391.8L1104.3 391.8L1108.8 391.9L1113.3 392.1L1117.8 392.3L1122.3 392.5L1126.8 392.8L1131.3 393.1L1135.9 393.5L1140.4 394.0L1144.9 394.5L1149.4 395.0L1153.9 395.6L1158.4 396.2L1162.9 396.9L1167.3 397.6L1171.8 398.4L1176.3 399.3L1180.8 400.1L1185.2 401.1L1189.7 402.1L1194.2 403.1L1198.6 404.2L1203.0 405.3L1207.5 406.5L1211.9 407.7L1216.3 408.9L1220.7 410.3L1225.1 411.6L1229.4 413.0L1233.8 414.5L1238.1 416.0L1242.4 417.6L1246.8 419.2L1251.1 420.8L1255.3 422.5L1259.6 424.2L1263.9 426.0L1268.1 427.9L1272.3 429.7L1276.5 431.7L1280.7 433.6L1284.8 435.7L1289.0 437.7L1293.1 439.8L1297.2 442.0L1301.3 444.2L1305.3 446.4L1309.3 448.7L1313.4 451.0L1317.3 453.4L1321.3 455.8L1325.2 458.2L1329.1 460.7L1333.0 463.3L1336.9 465.9L1340.7 468.5L1344.5 471.1L1348.3 473.8L1352.0 476.6L1355.8 479.4L1359.4 482.2L1363.1 485.0L1366.7 487.9L1370.3 490.9L1373.9 493.9L1377.4 496.9L1380.9 499.9L1384.4 503.0L1387.9 506.1L1391.3 509.3L1394.6 512.5L1398.0 515.7L1401.3 519.0L1404.6 522.3L1407.8 525.7L1411.0 529.0L1414.2 532.4L1417.3 535.9L1420.4 539.4L1423.4 542.9L1426.4 546.4L1429.4 550.0L1432.4 553.6L1435.3 557.2L1438.1 560.9L1440.9 564.5L1443.7 568.3L1446.5 572.0L1449.2 575.8L1451.8 579.6L1454.4 583.4L1457.0 587.3L1459.6 591.2L1462.1 595.1L1464.5 599.0L1466.9 603.0L1469.3 606.9L1471.6 611.0L1473.9 615.0L1476.1 619.0L1478.3 623.1L1480.5 627.2L1482.6 631.3L1484.6 635.5L1486.7 639.6L1488.6 643.8L1490.6 648.0L1492.4 652.2L1494.3 656.4L1496.1 660.7L1497.8 665.0L1499.5 669.2L1501.1 673.5L1502.7 677.9L1504.3 682.2L1505.8 686.5L1507.3 690.9L1508.7 695.2L1510.0 699.6L1511.4 704.0L1512.6 708.4L1513.8 712.8L1515.0 717.3L1516.1 721.7L1517.2 726.1L1518.2 730.6L1519.2 735.1L1520.2 739.5L1521.0 744.0L1521.9 748.5L1522.7 753.0L1523.4 757.4L1524.1 761.9L1524.7 766.4L1525.3 770.9L1525.8 775.4L1526.3 779.9L1526.8 784.4L1527.2 789.0L1527.5 793.5L1527.8 798.0L1528.0 802.5L1528.2 807.0L1528.4 811.5L1528.5 816.0L1528.5 820.5L1528.5 825.0L1528.5 829.4L1528.4 833.9L1528.2 838.4L1528.0 842.9L1527.8 847.3L1527.5 851.8L1527.2 856.2L1526.8 860.7L1526.3 865.1L1525.9 869.5L1525.3 873.9L1524.7 878.3L1524.1 882.7L1523.4 887.1L1522.7 891.5L1521.9 895.8L1521.1 900.1L1520.3 904.5L1519.3 908.8L1518.4 913.0L1517.4 917.3L1516.3 921.6L1515.2 925.8L1514.1 930.0L1512.9 934.2L1511.7 938.4L1510.4 942.6L1509.1 946.7L1507.7 950.9L1506.3 955.0L1504.8 959.0L1503.3 963.1L1501.8 967.1L1500.2 971.1L1498.6 975.1L1496.9 979.1L1495.2 983.0L1493.4 986.9L1491.6 990.8L1489.8 994.7L1487.9 998.5L1486.0 1002.3L1484.0 1006.1L1482.0 1009.9L1480.0 1013.6L1477.9 1017.3L1475.7 1020.9L1473.6 1024.6L1471.4 1028.2L1469.1 1031.7L1466.9 1035.3L1464.6 1038.8L1462.2 1042.3L1459.8 1045.7L1457.4 1049.1L1455.0 1052.5L1452.5 1055.8L1449.9 1059.1L1447.4 1062.4L1444.8 1065.6L1442.2 1068.8L1439.5 1072.0L1436.8 1075.1L1434.1 1078.2L1431.3 1081.2L1428.5 1084.2L1425.7 1087.2L1422.9 1090.1L1420.0 1093.0L1417.1 1095.8L1414.1 1098.6L1411.2 1101.4L1408.2 1104.1L1405.2 1106.8L1402.1 1109.4L1399.0 1112.0L1395.9 1114.6L1392.8 1117.1L1389.7 1119.6L1386.5 1122.0L1383.3 1124.4L1380.1 1126.7L1376.9 1129.0L1373.6 1131.3L1370.3 1133.5L1367.0 1135.6L1363.7 1137.7L1360.3 1139.8L1357.0 1141.8L1353.6 1143.8L1350.2 1145.7L1346.8 1147.6L1343.4 1149.4L1339.9 1151.2L1336.4 1152.9L1333.0 1154.6L1329.5 1156.3L1326.0 1157.9L1322.4 1159.4L1318.9 1160.9L1315.4 1162.3L1311.8 1163.7L1308.3 1165.1L1304.7 1166.4L1301.1 1167.6L1297.5 1168.8L1293.9 1169.9L1290.3 1171.0L1286.7 1172.1L1283.1 1173.1L1279.4 1174.0L1275.8 1174.9L1272.2 1175.7L1268.5 1176.5L1264.9 1177.3L1261.2 1177.9L1257.6 1178.6L1254.0 1179.2L1250.3 1179.7L1246.7 1180.2L1243.0 1180.6L1239.4 1181.0L1235.7 1181.3L1232.1 1181.6L1228.5 1181.8L1224.9 1181.9L1221.2 1182.1L1217.6 1182.1L1214.0 1182.1L1210.4 1182.1L1206.8 1182.0L1203.2 1181.8L1199.7 1181.6L1196.1 1181.4L1192.5 1181.1L1189.0 1180.7L1185.5 1180.3L1182.0 1179.9L1178.5 1179.4L1175.0 1178.8L1171.5 1178.2L1168.0 1177.5L1164.6 1176.8L1161.2 1176.0L1157.8 1175.2L1154.4 1174.4L1151.0 1173.4L1147.7 1172.5L1144.4 1171.5L1141.1 1170.4L1137.8 1169.3L1134.5 1168.1L1131.3 1166.9L1128.1 1165.6L1124.9 1164.3L1121.7 1162.9L1118.6 1161.5L1115.5 1160.0L1112.4 1158.5L1109.4 1157.0L1106.3 1155.4L1103.3 1153.7L1100.4 1152.0L1097.5 1150.2L1094.6 1148.5L1091.7 1146.6L1088.9 1144.7L1086.1 1142.8L1083.3 1140.8L1080.6 1138.8L1077.9 1136.7L1075.3 1134.6L1072.6 1132.4L1070.1 1130.2L1067.5 1128.0L1065.0 1125.7L1062.6 1123.4L1060.2 1121.0L1057.8 1118.6L1055.5 1116.1L1053.2 1113.6L1050.9 1111.1L1048.7 1108.5L1046.6 1105.9L1044.5 1103.3L1042.4 1100.6L1040.4 1097.9L1038.4 1095.1L1036.5 1092.3L1034.7 1089.5L1032.8 1086.6L1031.1 1083.7L1029.3 1080.8L1027.7 1077.8L1026.1 1074.8L1024.5 1071.8L1023.0 1068.7L1021.5 1065.6L1020.1 1062.5L1018.8 1059.4L1017.5 1056.2L1016.3 1053.0L1015.1 1049.8L1014.0 1046.5L1012.9 1043.2L1011.9 1039.9L1010.9 1036.6L1010.1 1033.3L1009.2 1029.9L1008.5 1026.5L1007.7 1023.1L1007.1 1019.7L1006.5 1016.2L1006.0 1012.8L1005.5 1009.3L1005.1 1005.8L1004.8 1002.4L1004.5 998.9L1004.2 995.3L1004.1 991.8L1004.0 988.3L1004.0 984.8L1004.0 981.2L1004.1 977.7L1004.2 974.2L1004.4 970.6L1004.7 967.1L1005.1 963.6L1005.5 960.1L1005.9 956.6L1006.4 953.1L1007.0 949.6L1007.7 946.1L1008.4 942.6L1009.1 939.2L1010.0 935.8L1010.8 932.3L1011.8 929.0L1012.8 925.6L1013.8 922.3L1014.9 919.0L1016.0 915.7L1017.2 912.5L1018.5 909.3L1019.8 906.1L1021.1 903.0L1022.5 900.0L1023.9 896.9L1024.5 895.8L1023.4 896.4L1020.3 897.8L1017.3 899.2L1014.2 900.5L1011.0 901.8L1007.8 903.1L1004.6 904.3L1001.3 905.4L998.0 906.5L994.7 907.5L991.3 908.5L988.0 909.5L984.5 910.3L981.1 911.2L977.7 911.9L974.2 912.6L970.7 913.3L967.2 913.9L963.7 914.4L960.2 914.8L956.7 915.2L953.2 915.6L949.7 915.9L946.1 916.1L942.6 916.2L939.1 916.3L935.5 916.3L932.0 916.3L928.5 916.2L925.0 916.1L921.4 915.8L917.9 915.5L914.5 915.2L911.0 914.8L907.5 914.3L904.1 913.8L900.6 913.2L897.2 912.6L893.8 911.8L890.4 911.1L887.0 910.2L883.7 909.4L880.4 908.4L877.1 907.4L873.8 906.3L870.5 905.2L867.3 904.0L864.1 902.8L860.9 901.5L857.8 900.2L854.7 898.8L851.6 897.3L848.5 895.8L845.5 894.2L842.5 892.6L839.5 891.0L836.6 889.2L833.7 887.5L830.8 885.6L828.0 883.8L825.2 881.9L822.4 879.9L819.7 877.9L817.0 875.8L814.4 873.7L811.8 871.6L809.2 869.4L806.7 867.1L804.2 864.8L801.7 862.5L799.3 860.1L796.9 857.7L794.6 855.3L792.3 852.8L790.1 850.2L787.9 847.7L785.7 845.0L783.6 842.4L781.5 839.7L779.5 837.0L777.5 834.2L775.6 831.4L773.7 828.6L771.8 825.7L770.1 822.8L768.3 819.9L766.6 817.0L764.9 814.0L763.3 810.9L761.8 807.9L760.3 804.8L758.8 801.7L757.4 798.6L756.0 795.4L754.7 792.2L753.4 789.0L752.2 785.8L751.0 782.5L749.9 779.2L748.8 775.9L747.8 772.6L746.9 769.3L745.9 765.9L745.1 762.5L744.3 759.1L743.5 755.7L742.8 752.3L742.1 748.8L741.5 745.3L740.9 741.8L740.4 738.3L740.0 734.8L739.6 731.3L739.2 727.8L738.9 724.2L738.7 720.6L738.5 717.1L738.3 713.5L738.2 709.9L738.2 706.3L738.2 702.7L738.2 699.1L738.4 695.4L738.5 691.8L738.7 688.2L739.0 684.6L739.3 680.9L739.7 677.3L740.1 673.6L740.6 670.0L741.1 666.3L741.7 662.7L742.4 659.1L743.0 655.4L743.8 651.8L744.6 648.1L745.4 644.5L746.3 640.9L747.2 637.2L748.2 633.6L749.3 630.0L750.4 626.4L751.5 622.8L752.7 619.2L753.9 615.6L755.2 612.0L756.6 608.5L758.0 604.9L759.4 601.4L760.9 597.9L762.4 594.3L764.0 590.8L765.7 587.3L767.4 583.9L769.1 580.4L770.9 576.9L772.7 573.5L774.6 570.1L776.5 566.7L778.5 563.3L780.5 560.0L782.6 556.6L784.7 553.3L786.8 550.0L789.0 546.7L791.3 543.4L793.6 540.2L795.9 537.0L798.3 533.8L800.7 530.6L803.2 527.5L805.7 524.4L808.3 521.3L810.9 518.2L813.5 515.1L816.2 512.1L818.9 509.1L821.7 506.2L824.5 503.2L827.3 500.3L830.2 497.4L833.1 494.6L836.1 491.8L839.1 489.0L842.1 486.2L845.2 483.5L848.3 480.8L851.5 478.1L854.7 475.5L857.9 472.9L861.2 470.4L864.5 467.8L867.8 465.3L871.2 462.9L874.6 460.5L878.0 458.1L881.5 455.7L885.0 453.4L888.6 451.2L892.1 448.9L895.7 446.7L899.4 444.6L903.0 442.4L906.7 440.3L910.4 438.3L914.2 436.3L918.0 434.3L921.8 432.4L925.6 430.5L929.5 428.7L933.4 426.9L937.3 425.1L941.2 423.4L945.2 421.7L949.2 420.1L953.2 418.5L957.2 417.0L961.3 415.5L965.3 414.0L969.4 412.6L973.6 411.2L977.7 409.9L981.9 408.6L986.1 407.4L990.3 406.2L994.5 405.1L998.7 404.0L1003.0 402.9L1007.3 401.9L1011.5 401.0L1015.8 400.0L1020.2 399.2L1024.5 398.4Z" fill="none" stroke="#c8000f" stroke-width="18.5" stroke-linejoin="round"/>
<text x="1025" y="245" text-anchor="middle" class="m" font-size="53">0</text>
<circle cx="1048.0" cy="210.2" r="4.2" fill="none" stroke="#222" stroke-width="2.2"/>
<text x="323" y="915" text-anchor="middle" class="m" font-size="53">90</text>
<circle cx="361.0" cy="880.5" r="4.2" fill="none" stroke="#222" stroke-width="2.2"/>
<text x="1722" y="915" text-anchor="middle" class="m" font-size="53">270</text>
<circle cx="1774.7" cy="880.3" r="4.2" fill="none" stroke="#222" stroke-width="2.2"/>
<text x="1025.3" y="1583" text-anchor="middle" class="m" font-size="53">180</text>
<circle cx="1077.5" cy="1549.2" r="4.2" fill="none" stroke="#222" stroke-width="2.2"/>
<path d="M145.5 267.3 L145.5 896.3 L171 896.3" fill="none" stroke="#222" stroke-width="2.6"/>
<line x1="121.8" y1="267.3" x2="145.5" y2="267.3" stroke="#888" stroke-width="2"/>
<text x="112.5" y="279.7" text-anchor="end" class="r" font-size="39">+5.0</text>
<line x1="121.8" y1="367.3" x2="145.5" y2="367.3" stroke="#888" stroke-width="2"/>
<text x="109.5" y="379.7" text-anchor="end" class="r" font-size="39">0.0</text>
<line x1="121.8" y1="409.5" x2="170" y2="409.5" stroke="#222" stroke-width="4"/>
<text x="109.0" y="420.7" text-anchor="end" class="b" font-size="39" letter-spacing="0.6">-2.0</text>
<line x1="121.8" y1="451.8" x2="145.5" y2="451.8" stroke="#888" stroke-width="2"/>
<text x="109.5" y="464.2" text-anchor="end" class="r" font-size="39">-4.0</text>
<line x1="121.8" y1="494.0" x2="145.5" y2="494.0" stroke="#888" stroke-width="2"/>
<text x="109.5" y="506.4" text-anchor="end" class="r" font-size="39">-6.0</text>
<line x1="121.8" y1="536.3" x2="145.5" y2="536.3" stroke="#888" stroke-width="2"/>
<text x="109.5" y="548.7" text-anchor="end" class="r" font-size="39">-8.0</text>
<line x1="121.8" y1="578.5" x2="170" y2="578.5" stroke="#222" stroke-width="4"/>
<text x="112.5" y="589.7" text-anchor="end" class="b" font-size="39" letter-spacing="0.6">-10.0</text>
<line x1="121.8" y1="620.7" x2="145.5" y2="620.7" stroke="#888" stroke-width="2"/>
<text x="109.5" y="633.1" text-anchor="end" class="r" font-size="39">-12.0</text>
<line x1="121.8" y1="663.0" x2="145.5" y2="663.0" stroke="#888" stroke-width="2"/>
<text x="109.5" y="675.4" text-anchor="end" class="r" font-size="39">-14.0</text>
<line x1="121.8" y1="705.2" x2="145.5" y2="705.2" stroke="#888" stroke-width="2"/>
<text x="109.5" y="717.6" text-anchor="end" class="r" font-size="39">-16.0</text>
<line x1="121.8" y1="747.5" x2="145.5" y2="747.5" stroke="#888" stroke-width="2"/>
<text x="109.5" y="759.9" text-anchor="end" class="r" font-size="39">-18.0</text>
<line x1="121.8" y1="789.7" x2="170" y2="789.7" stroke="#222" stroke-width="4"/>
<text x="112.5" y="800.9" text-anchor="end" class="b" font-size="39" letter-spacing="0.6">-20.0</text>
<line x1="121.8" y1="831.9" x2="145.5" y2="831.9" stroke="#888" stroke-width="2"/>
<text x="109.5" y="844.3" text-anchor="end" class="r" font-size="39">-22.0</text>
<line x1="121.8" y1="874.2" x2="145.5" y2="874.2" stroke="#888" stroke-width="2"/>
<text x="109.5" y="886.6" text-anchor="end" class="r" font-size="39">-24.0</text>
<text x="174" y="906.7" class="r" font-size="39">-25.0</text>
<text x="25" y="989.1" class="r" font-size="41" letter-spacing="0.8">dB rel. 1V/Pa</text>
<text x="31" y="1371" class="r" font-size="51" letter-spacing="0.3">Frequency:</text>
<text x="253" y="1453.3" text-anchor="end" class="m2" font-size="51" letter-spacing="1.2">500 Hz:</text>
<text x="251" y="1516.7" text-anchor="end" class="m2" font-size="51" letter-spacing="1.2">1000 Hz:</text>
<text x="251" y="1580" text-anchor="end" class="m2" font-size="51" letter-spacing="1.2">4000 Hz:</text>
<rect x="269.3" y="1427.8" width="67.4" height="26" fill="#c8000f"/>
<rect x="269.3" y="1493.6" width="67.4" height="27.2" fill="#62b0e8"/>
<rect x="269.3" y="1555.7" width="67.4" height="26.5" fill="#4a823c"/>
</svg></body></html>
